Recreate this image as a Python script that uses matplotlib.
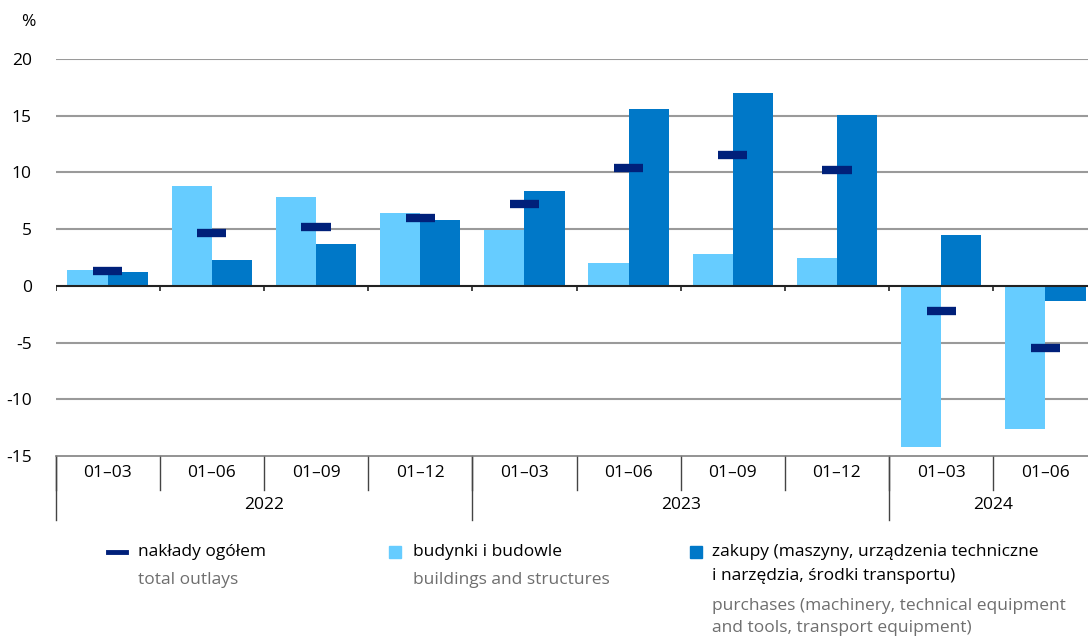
import numpy as np
import matplotlib
matplotlib.use('Agg')
import matplotlib.pyplot as plt
from matplotlib.patches import Rectangle
from matplotlib.lines import Line2D

plt.rcParams['font.family'] = ['Liberation Sans Narrow', 'Open Sans', 'DejaVu Sans']

# data
periods = ['01–03', '01–06', '01–09', '01–12', '01–03', '01–06', '01–09', '01–12', '01–03', '01–06']
years = ['2022', '2023', '2024']
year_groups = [4, 4, 2]
total = [1.3, 4.7, 5.2, 6.0, 7.2, 10.4, 11.5, 10.2, -2.2, -5.5]
buildings = [1.4, 8.8, 7.8, 6.4, 4.9, 2.0, 2.8, 2.5, -14.2, -12.6]
purchases = [1.2, 2.3, 3.7, 5.8, 8.4, 15.6, 17.0, 15.1, 4.5, -1.3]

c_light = '#66ccff'
c_dark = '#0078c8'
c_navy = '#00207a'
c_grey = '#6e6e6e'

W, H = 1088, 636
fig = plt.figure(figsize=(W / 100, H / 100), dpi=100)
ax = fig.add_axes([55.5 / W, (H - 456) / H, (W - 55.5) / W, (456 - 59) / H])

x = np.arange(len(periods))
bw = 0.385
ax.bar(x - bw / 2, buildings, bw, color=c_light, zorder=3)
ax.bar(x + bw / 2, purchases, bw, color=c_dark, zorder=3)
ax.hlines(total, x - 0.14, x + 0.14, colors=c_navy, linewidth=6, zorder=4)

ax.set_ylim(-15, 20)
ax.set_xlim(-0.5, 9.5 - 9.5 / 104.2)
ax.set_yticks(range(-15, 21, 5))
ax.set_yticklabels([str(v) for v in range(-15, 21, 5)], fontsize=12.5)
ax.tick_params(axis='y', length=0, pad=17)
ax.set_xticks([])
for s in ['left', 'right', 'top']:
    ax.spines[s].set_visible(False)
ax.spines['bottom'].set_color('#808080')
ax.spines['bottom'].set_linewidth(1.2)
for v in range(-10, 21, 5):
    if v != 0:
        ax.axhline(v, color='#9a9a9a', linewidth=1.5, zorder=1)
ax.axhline(0, color='#222222', linewidth=1.5, zorder=5)

# small ticks on zero line
bounds = np.arange(-0.5, len(periods), 1.0)
ax.vlines(bounds, -0.45, 0, colors='#222222', linewidth=1.2, zorder=5)

# category table below axis
px = 1 / 11.35
for b in bounds:
    ax.plot([b, b], [-15, -15 - 34 * px], color='#444444', lw=1, clip_on=False)
for i, p in enumerate(periods):
    ax.text(i, -15 - 17 * px, p, ha='center', va='center', fontsize=12.5, clip_on=False)
start = 0
for y, n in zip(years, year_groups):
    b = start - 0.5
    ax.plot([b, b], [-15, -15 - 64 * px], color='#444444', lw=1, clip_on=False)
    ax.text(start + (n - 1) / 2, -15 - 49 * px, y, ha='center', va='center', fontsize=12.5, clip_on=False)
    start += n

fig.text(28 / W, 1 - 22 / H, '%', ha='center', va='center', fontsize=12.5)

# legend
fs = 12.5
fig.add_artist(Line2D([108 / W, 126 / W], [1 - 552 / H] * 2, color=c_navy, lw=3.5))
fig.text(138 / W, 1 - 552 / H, 'nakłady ogółem', va='center', fontsize=fs)
fig.text(138 / W, 1 - 580 / H, 'total outlays', va='center', fontsize=fs, color=c_grey)

fig.add_artist(Rectangle((389 / W, 1 - 558 / H), 12 / W, 12 / H, color=c_light, transform=fig.transFigure))
fig.text(413 / W, 1 - 552 / H, 'budynki i budowle', va='center', fontsize=fs)
fig.text(413 / W, 1 - 580 / H, 'buildings and structures', va='center', fontsize=fs, color=c_grey)

fig.add_artist(Rectangle((690 / W, 1 - 558 / H), 12 / W, 12 / H, color=c_dark, transform=fig.transFigure))
fig.text(712 / W, 1 - 552 / H, 'zakupy (maszyny, urządzenia techniczne', va='center', fontsize=fs)
fig.text(712 / W, 1 - 576 / H, 'i narzędzia, środki transportu)', va='center', fontsize=fs)
fig.text(712 / W, 1 - 606 / H, 'purchases (machinery, technical equipment', va='center', fontsize=fs, color=c_grey)
fig.text(712 / W, 1 - 628 / H, 'and tools, transport equipment)', va='center', fontsize=fs, color=c_grey)

plt.savefig('out.png', dpi=100)
